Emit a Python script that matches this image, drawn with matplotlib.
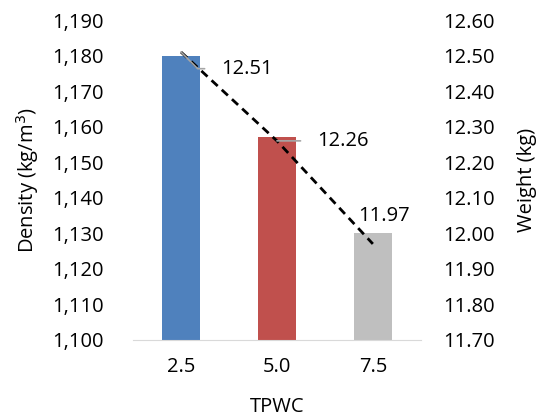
import numpy as np
import matplotlib.pyplot as plt
from matplotlib.ticker import FuncFormatter

plt.rcParams['font.family'] = ['Open Sans', 'DejaVu Sans']
fs = 14.5

tpwc = ['2.5', '5.0', '7.5']
density = [1180, 1157, 1130]
weight = [12.51, 12.26, 11.97]
bar_colors = ['#4F81BD', '#C0504D', '#BFBFBF']

fig = plt.figure(figsize=(5.43, 4.18), dpi=100)
ax = fig.add_axes([0.245, 0.187, 0.53, 0.765])
x = np.arange(len(tpwc))

ax.bar(x, density, width=0.4, color=bar_colors, zorder=2)
ax.set_ylim(1100, 1190)
ax.set_yticks(np.arange(1100, 1191, 10))
ax.yaxis.set_major_formatter(FuncFormatter(lambda v, p: f'{v:,.0f}'))
ax.set_xlim(-0.5, 2.5)
ax.set_xticks(x)
ax.set_xticklabels(tpwc)
ax.set_xlabel('TPWC', fontsize=fs, labelpad=15)
ax.set_ylabel('Density (kg/m$^3$)', fontsize=fs, labelpad=8)
for s in ['top', 'left', 'right']:
    ax.spines[s].set_visible(False)
ax.spines['bottom'].set_color('#D9D9D9')
ax.tick_params(axis='x', length=0, labelsize=fs, pad=12)
ax.tick_params(axis='y', length=0, labelsize=fs, pad=21)

ax2 = ax.twinx()
ax2.plot(x, weight, color='black', linestyle=(0, (3, 2)), linewidth=2, zorder=3)
ax2.set_ylim(11.70, 12.60)
ax2.set_yticks(np.arange(11.70, 12.601, 0.10))
ax2.yaxis.set_major_formatter(FuncFormatter(lambda v, p: f'{v:.2f}'))
ax2.set_ylabel('Weight (kg)', fontsize=fs, labelpad=16)
for s in ax2.spines.values():
    s.set_visible(False)
ax2.tick_params(axis='y', length=0, labelsize=fs, pad=16)

# value labels with grey leader lines
offsets = [(29, -12), (29, 0), (8, 20)]
styles = ['angle,angleA=0,angleB=-45,rad=0', 'arc3', None]
for xi, w, off, cs in zip(x, weight, offsets, styles):
    arrow = None
    if cs is not None:
        arrow = dict(arrowstyle='-', color='#A6A6A6', lw=1.2,
                     shrinkA=10, shrinkB=0, connectionstyle=cs)
    ax2.annotate(f'{w:.2f}', xy=(xi, w), xytext=off, textcoords='offset points',
                 ha='left' if cs else 'center', va='center', fontsize=fs,
                 arrowprops=arrow)

fig.savefig('out.png', dpi=100)
